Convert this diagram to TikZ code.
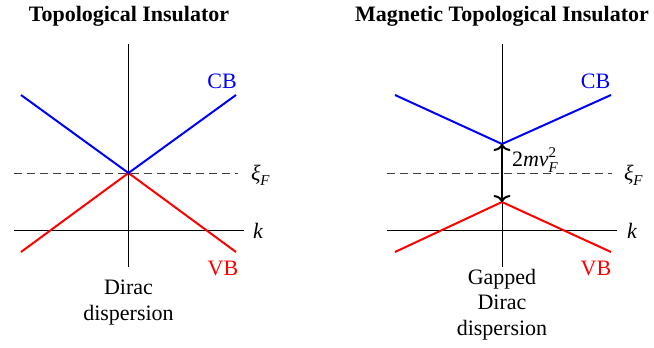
\documentclass[tikz,border=0pt]{standalone}
\usepackage{fontspec}
\setmainfont{Liberation Serif}
\newfontfamily\timesfont{Liberation Serif}
\usetikzlibrary{arrows.meta}
\newcommand\myssz{\fontsize{15}{15}\selectfont}
\begin{document}
\begin{tikzpicture}[x=1pt,y=-1pt,
  every node/.style={font=\timesfont\fontsize{22}{25.5}\selectfont, inner sep=0pt, outer sep=0pt},
  axis/.style={line width=1pt, black},
  fermi/.style={line width=1pt, black!75, dash pattern=on 8pt off 5pt},
  cband/.style={line width=2pt, blue},
  vband/.style={line width=2pt, red},
  lbl/.style={anchor=base},
  gaparrow/.style={line width=2pt, {Computer Modern Rightarrow[length=7pt,width=17pt]}-{Computer Modern Rightarrow[length=7pt,width=17pt]}}]
\useasboundingbox (0,0) rectangle (654,348);

% ---------- Left panel ----------
\node[lbl, font=\timesfont\fontsize{22}{25.5}\selectfont\bfseries] (t1) at (129,21) {Topological Insulator};
\coordinate (l-vtop) at (128.5,44);
\coordinate (l-vbot) at (128.5,267);
\coordinate (l-hl) at (14,230);
\coordinate (l-hr) at (244,230);
\coordinate (l-fl) at (14,173);
\coordinate (l-fr) at (238,173);
\coordinate (l-d) at (128.5,173);
\coordinate (l-cbl) at (21,95);
\coordinate (l-cbr) at (236,95);
\coordinate (l-vbl) at (21,252);
\coordinate (l-vbr) at (236,252);
\draw[axis] (l-vtop) -- (l-vbot);
\draw[axis] (l-hl) -- (l-hr);
\draw[fermi] (l-fl) -- (l-fr);
\draw[vband] (l-vbl) -- (l-d) -- (l-vbr);
\draw[cband] (l-cbl) -- (l-d) -- (l-cbr);
\node[lbl, text=blue] (l-cb) at (222,88) {CB};
\node[lbl, text=red] (l-vb) at (223,275) {VB};
\node[anchor=base west] (l-xi) at (251,180) {\textit{ξ}\raisebox{-5pt}{\myssz\textit{F}}};
\node[anchor=base west] (l-k) at (253,238) {\textit{k}};
\node[lbl, align=center] (l-cap) at (128.5,320) {Dirac\\dispersion};

% ---------- Right panel ----------
\node[lbl, font=\timesfont\fontsize{22}{25.5}\selectfont\bfseries] (t2) at (502,21) {Magnetic Topological Insulator};
\coordinate (r-vtop) at (502,44);
\coordinate (r-vbot) at (502,267);
\coordinate (r-hl) at (387,230);
\coordinate (r-hr) at (617,230);
\coordinate (r-fl) at (387,173);
\coordinate (r-fr) at (612,173);
\coordinate (r-cmin) at (502,144);
\coordinate (r-vmax) at (502,202);
\coordinate (r-cbl) at (395,95);
\coordinate (r-cbr) at (611,95);
\coordinate (r-vbl) at (395,252);
\coordinate (r-vbr) at (611,252);
\draw[axis] (r-vtop) -- (r-vbot);
\draw[axis] (r-hl) -- (r-hr);
\draw[fermi] (r-fl) -- (r-fr);
\draw[vband] (r-vbl) -- (r-vmax) -- (r-vbr);
\draw[cband] (r-cbl) -- (r-cmin) -- (r-cbr);
\draw[gaparrow] (r-vmax) -- (r-cmin);
\node[anchor=base west] (r-gap) at (512,166) {2\textit{mv}\makebox[0pt][l]{\raisebox{9pt}{\myssz 2}}\raisebox{-6pt}{\myssz\textit{F}}};
\node[lbl, text=blue] (r-cb) at (595.5,88) {CB};
\node[lbl, text=red] (r-vb) at (596,275) {VB};
\node[anchor=base west] (r-xi) at (624,180) {\textit{ξ}\raisebox{-5pt}{\myssz\textit{F}}};
\node[anchor=base west] (r-k) at (627,238) {\textit{k}};
\node[lbl, align=center] (r-cap) at (502,335) {Gapped\\Dirac\\dispersion};
\end{tikzpicture}
\end{document}
